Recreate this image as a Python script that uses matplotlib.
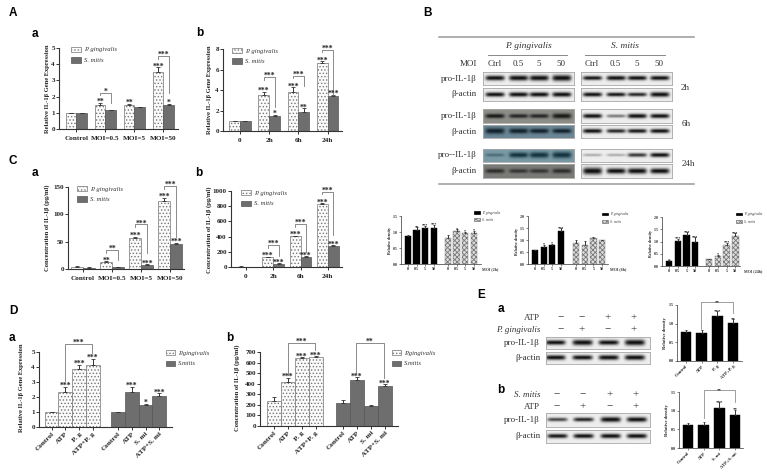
import numpy as np
import matplotlib
matplotlib.use('Agg')
import matplotlib.pyplot as plt
from matplotlib.patches import Patch

W, H = 767, 473
SERIF = 'Liberation Serif'
SANS = 'Liberation Sans'
DARK = '#6e6e6e'

plt.rcParams['font.family'] = SERIF
plt.rcParams['hatch.linewidth'] = 0.6

# panel A
moi_labels = ['Control', 'MOI=0.5', 'MOI=5', 'MOI=50']
time_labels = ['0', '2h', '6h', '24h']
aa_pg = [1, 1.5, 1.48, 3.52]
aa_pg_err = [0, .12, .08, .3]
aa_sm = [1, 1.15, 1.33, 1.5]
aa_sm_err = [0, .05, .05, .05]
ab_pg = [1, 3.55, 3.8, 6.6]
ab_pg_err = [0, .3, .45, .2]
ab_sm = [1, 1.5, 1.9, 3.4]
ab_sm_err = [0, .08, .3, .15]

# panel C
ca_pg = [4, 13, 57, 125]
ca_pg_err = [1, 1, 1.5, 5]
ca_sm = [2.5, 3, 7, 46]
ca_sm_err = [.5, .5, 1.5, 1.5]
cb_pg = [5, 125, 405, 835]
cb_pg_err = [3, 8, 5, 5]
cb_sm = [3, 45, 135, 280]
cb_sm_err = [1, 5, 5, 5]

# panel C density charts
moi_small = ['0', '0.5', '5', '50']
d2_pg = [.87, 1.05, 1.12, 1.12]
d2_pg_err = [.03, .1, .07, .1]
d2_sm = [.81, 1.03, .97, .97]
d2_sm_err = [.1, .05, .04, .06]
d6_pg = [.58, .72, .78, 1.37]
d6_pg_err = [.02, .08, .07, .12]
d6_sm = [.88, .78, 1.08, .98]
d6_sm_err = [.13, .17, .03, .02]
d24_pg = [.2, 1.02, 1.28, .97]
d24_pg_err = [.03, .1, .1, .2]
d24_sm = [.28, .42, .85, 1.22]
d24_sm_err = [.01, .04, .1, .12]

# panel D
da_pg = [1, 2.35, 3.85, 4.15]
da_pg_err = [0, .32, .3, .4]
da_sm = [1, 2.35, 1.5, 2.1]
da_sm_err = [0, .32, .05, .15]
db_pg = [240, 420, 640, 650]
db_pg_err = [35, 35, 8, 10]
db_sm = [220, 435, 190, 375]
db_sm_err = [25, 25, 5, 20]
d_labels = ['Control', 'ATP', 'P. g', 'ATP+P. g', 'Control', 'ATP', 'S. mi', 'ATP+S. mi']

# panel E density charts
ea_vals = [.77, .74, 1.2, 1.02]
ea_err = [.07, .09, .13, .1]
ea_labels = ['Control', 'ATP', 'P. g', 'ATP+P. g']
eb_vals = [.61, .62, 1.08, .89]
eb_err = [.07, .07, .14, .14]
eb_labels = ['Control', 'ATP', 'S. mi', 'ATP+S. mi']

# blot band strengths
b2h_il_l = [.9, 1.05, 1.1, 1.3]
b2h_ac_l = [.8, .85, .85, .9]
b2h_il_r = [.65, .8, .75, .75]
b2h_ac_r = [.75, .65, .6, .95]
b6h_il_l = [.7, .6, .6, .95]
b6h_ac_l = [1.2, 1.0, .85, .8]
b6h_il_r = [.7, .35, .75, .7]
b6h_ac_r = [.75, .6, .65, .7]
b24h_il_l = [.3, 1.0, 1.15, 1.3]
b24h_ac_l = [.7, .6, .6, .75]
b24h_il_r = [.2, .2, .55, .7]
b24h_ac_r = [1.5, 1.05, 1.1, 1.0]
ea_il = [.8, 1.1, .85, 1.2]
ea_ac = [.8, .75, .85, .9]
eb_il = [.5, .6, .95, .85]
eb_ac = [.65, .7, .75, .75]

fig = plt.figure(figsize=(W / 100, H / 100), dpi=100)


def fx(x):
    return x / W


def fy(y):
    return 1 - y / H


def make_axes(left, right, top, bottom, xlim, ylim, yticks, fs=5, lw=.8):
    ax = fig.add_axes([fx(left), fy(bottom), (right - left) / W, (bottom - top) / H])
    ax.set_xlim(*xlim)
    ax.set_ylim(*ylim)
    ax.set_yticks(yticks)
    ax.patch.set_alpha(0)
    for s in ['top', 'right']:
        ax.spines[s].set_visible(False)
    for s in ['left', 'bottom']:
        ax.spines[s].set_linewidth(lw)
        ax.spines[s].set_color('#333333')
    ax.tick_params(labelsize=fs, width=lw * .8, length=2 * lw + .4, pad=1, colors='#222222')
    for t in ax.get_xticklabels() + ax.get_yticklabels():
        t.set_fontweight('bold')
    return ax


def bars(ax, x, vals, errs, style, width, stars=None, fs=5.5, lw=.5, cap=1.2):
    if style == 'dots':
        kw = dict(color='#fbfbfb', edgecolor='#777777', hatch='.....', linewidth=lw)
    elif style == 'dark':
        kw = dict(color=DARK, edgecolor='#555555', linewidth=lw)
    elif style == 'black':
        kw = dict(color='black', edgecolor='black', linewidth=lw)
    else:
        kw = dict(color='#dddddd', edgecolor='#777777', hatch='xxxxxxx', linewidth=lw)
    ax.bar(x, vals, width, **kw)
    ax.errorbar(x, vals, yerr=[np.zeros(len(errs)), errs], fmt='none', ecolor='#333333',
                elinewidth=.7, capsize=cap, capthick=.6)
    if stars:
        for xi, v, e, s in zip(x, vals, errs, stars):
            if s:
                ax.annotate(s, (xi, v + e), xytext=(0, -fs * .42), textcoords='offset points',
                            ha='center', va='bottom', fontsize=fs, fontweight='bold',
                            color='#222222', annotation_clip=False)


def bracket(ax, x1, x2, top, yl, yr, label, fs=5.5, lw=.6, color='#777777'):
    ax.plot([x1, x1, x2, x2], [yl, top, top, yr], color=color, lw=lw, clip_on=False)
    ax.annotate(label, ((x1 + x2) / 2, top), xytext=(0, -fs * .42), textcoords='offset points',
                ha='center', va='bottom', fontsize=fs, fontweight='bold', color='#222222',
                annotation_clip=False)


def legend(ax, x, y, labels, styles, fs=4.8, hl=1.5, hh=.8, spacing=.75, sep=.45):
    handles = []
    for st in styles:
        if st == 'dots':
            handles.append(Patch(facecolor='#fbfbfb', edgecolor='#777777', hatch='.....', lw=.5))
        elif st == 'dark':
            handles.append(Patch(facecolor=DARK, edgecolor='#555555', lw=.5))
        elif st == 'black':
            handles.append(Patch(facecolor='black', edgecolor='black', lw=.5))
        else:
            handles.append(Patch(facecolor='#dddddd', edgecolor='#777777', hatch='xxxxxxx', lw=.5))
    ax.legend(handles, labels, loc='center left', bbox_to_anchor=(fx(x), fy(y)),
              bbox_transform=fig.transFigure, frameon=False, borderpad=0, borderaxespad=0,
              handlelength=hl, handleheight=hh, labelspacing=spacing, handletextpad=sep,
              prop=dict(family=SERIF, style='italic', size=fs), labelcolor='#333333')


def ylabel(x, y, text, fs=4.7):
    fig.text(fx(x), fy(y), text, rotation=90, ha='center', va='center', fontsize=fs,
             fontweight='bold', color='#222222')


def txt(x, y, s, fs=6.5, ha='center', **kw):
    kw.setdefault('color', '#333333')
    fig.text(fx(x), fy(y), s, ha=ha, va='center', fontsize=fs, **kw)


def grouped(rect, xlim, ylim, yticks, labels, width, pg, pg_err, sm, sm_err, st_pg, st_sm):
    ax = make_axes(*rect, xlim, ylim, yticks)
    g = np.arange(len(labels))
    bars(ax, g - width / 2, pg, pg_err, 'dots', width, st_pg)
    bars(ax, g + width / 2, sm, sm_err, 'dark', width, st_sm)
    ax.set_xticks(g)
    ax.set_xticklabels(labels, fontsize=5.2, fontweight='bold')
    ax.tick_params(axis='x', pad=3)
    return ax


names = ['P. gingivalis', 'S. mitis']

# A a
w = .37
ax = grouped((59, 178, 48, 129), (-.6, 3.5), (0, 5), range(6), moi_labels, w,
             aa_pg, aa_pg_err, aa_sm, aa_sm_err, ['', '**', '**', '***'], ['', '', '', '*'])
bracket(ax, 1 - w / 2, 1 + w / 2, 2.24, 2.1, 1.6, '*')
bracket(ax, 3 - w / 2, 3 + w / 2, 4.52, 4.3, 2.2, '***')
legend(ax, 71, 55, names, ['dots', 'dark'])
ylabel(47, 89, 'Relative IL-1β Gene Expression')

# A b
ax = grouped((223, 342, 49, 131), (-.58, 3.49), (0, 8), range(0, 9, 2), time_labels, w,
             ab_pg, ab_pg_err, ab_sm, ab_sm_err, ['', '***', '***', '***'], ['', '*', '**', '***'])
bracket(ax, 1 - w / 2, 1 + w / 2, 5.27, 5.0, 2.35, '***')
bracket(ax, 2 - w / 2, 2 + w / 2, 5.37, 5.15, 4.4, '***')
bracket(ax, 3 - w / 2, 3 + w / 2, 7.9, 7.7, 3.5, '***')
legend(ax, 232, 56, names, ['dots', 'dark'])
ylabel(210, 90, 'Relative IL-1β Gene Expression')

# C a
w = .41
ax = grouped((68, 184, 187, 269), (-.52, 3.48), (0, 150), [0, 50, 100, 150], moi_labels, w,
             ca_pg, ca_pg_err, ca_sm, ca_sm_err, ['', '**', '***', '***'], ['', '', '***', '***'])
bracket(ax, 1 - w / 2, 1 + w / 2, 35, 29, 16, '**')
bracket(ax, 2 - w / 2, 2 + w / 2, 82, 77, 29, '***')
bracket(ax, 3 - w / 2, 3 + w / 2, 152, 146, 59, '***')
legend(ax, 77, 194, names, ['dots', 'dark'])
ylabel(47, 228, 'Concentration of IL-1β (pg/ml)')

# C b
w = .40
ax = grouped((231, 342, 191, 267), (-.55, 3.52), (0, 1000), range(0, 1001, 200), time_labels, w,
             cb_pg, cb_pg_err, cb_sm, cb_sm_err, ['', '***', '***', '***'], ['', '***', '***', '***'])
bracket(ax, 1 - w / 2, 1 + w / 2, 290, 250, 145, '***')
bracket(ax, 2 - w / 2, 2 + w / 2, 565, 525, 197, '***')
bracket(ax, 3 - w / 2, 3 + w / 2, 990, 960, 420, '***')
legend(ax, 241, 198, names, ['dots', 'dark'])
ylabel(209, 230, 'Concentration of IL-1β (pg/ml)')


def density(rect, xlim, ylim, yticks, start, pg, pg_err, sm, sm_err, st_pg, st_sm):
    ax = make_axes(*rect, xlim, ylim, yticks, fs=2.8, lw=.5)
    xa = np.arange(4)
    xb = xa + start
    bars(ax, xa, pg, pg_err, 'black', .72, st_pg, fs=3, lw=.3, cap=.7)
    bars(ax, xb, sm, sm_err, 'hatch', .72, st_sm, fs=3, lw=.3, cap=.7)
    ax.set_xticks(list(xa) + list(xb))
    ax.set_xticklabels(moi_small * 2, fontsize=2.9, fontweight='bold')
    ax.set_yticklabels(['%.1f' % t for t in yticks], fontweight='bold')
    return ax


ax = density((401, 481, 216, 264), (-.81, 8.49), (0, 1.5), [0, .5, 1, 1.5], 4.65,
             d2_pg, d2_pg_err, d2_sm, d2_sm_err, ['', '**', '***', '***'], ['', '*', '*', '*'])
legend(ax, 474, 216.5, names, ['black', 'hatch'], fs=2.7, hl=1.5, spacing=.9, sep=.7)
ylabel(390, 240, 'Relative density', fs=2.9)
txt(482, 269, 'MOI (2h)', fs=2.9, ha='left', fontweight='bold')

ax = density((528, 608, 216, 264), (-.8, 8.4), (0, 2), [0, .5, 1, 1.5, 2], 4.73,
             d6_pg, d6_pg_err, d6_sm, d6_sm_err, ['', '*', '*', '***'], None)
legend(ax, 602, 218, names, ['black', 'hatch'], fs=2.7, hl=1.5, spacing=.9, sep=.7)
ylabel(517, 241, 'Relative density', fs=2.9)
txt(610, 269, 'MOI (6h)', fs=2.9, ha='left', fontweight='bold')

ax = density((662, 740, 217, 266), (-.8, 8.1), (0, 2), [0, .5, 1, 1.5, 2], 4.57,
             d24_pg, d24_pg_err, d24_sm, d24_sm_err, ['*', '***', '***', '***'], ['', '*', '***', '***'])
legend(ax, 736, 218, names, ['black', 'hatch'], fs=2.7, hl=1.5, spacing=.9, sep=.7)
ylabel(651, 243, 'Relative density', fs=2.9)
txt(744, 271, 'MOI (24h)', fs=2.9, ha='left', fontweight='bold')


def treatment(rect, xlim, ylim, yticks, start, pg, pg_err, sm, sm_err, st_pg, st_sm):
    ax = make_axes(*rect, xlim, ylim, yticks)
    xa = np.arange(4)
    xb = xa + start
    bars(ax, xa, pg, pg_err, 'dots', 1, st_pg)
    bars(ax, xb, sm, sm_err, 'dark', 1, st_sm)
    ax.set_xticks(list(xa) + list(xb))
    ax.set_xticklabels(d_labels, fontsize=5.2, fontweight='bold', rotation=45, ha='right',
                       rotation_mode='anchor')
    return ax


names_d = ['P.gingivalis', 'S.mitis']

# D a
ax = treatment((39, 172, 352, 427), (-.91, 8.76), (0, 5), range(6), 4.84, da_pg, da_pg_err, da_sm, da_sm_err,
               ['', '***', '***', '***'], ['', '***', '*', '***'])
bracket(ax, 1, 2.95, 5.55, 3.05, 4.95, '***')
legend(ax, 166, 358, names_d, ['dots', 'dark'], hl=1.35)
ylabel(22, 388, 'Relative IL-1β Gene Expression')

# D b
ax = treatment((260, 398, 352, 426), (-1, 8.92), (0, 700), range(0, 701, 100), 4.96, db_pg, db_pg_err, db_sm, db_sm_err,
               ['', '***', '***', '***'], ['', '***', '', '***'])
bracket(ax, 1, 2.95, 785, 485, 720, '***')
bracket(ax, 5.9, 7.9, 785, 505, 455, '**')
legend(ax, 392, 358, names_d, ['dots', 'dark'], hl=1.35)
ylabel(237, 388, 'Concentration of IL-1β (pg/ml)')


def simple(rect, xlim, vals, errs, labels, stars):
    ax = make_axes(*rect, xlim, (0, 1.5), [0, .5, 1, 1.5], fs=3, lw=.5)
    x = np.arange(4)
    bars(ax, x, vals, errs, 'black', .67, stars, fs=3.5, lw=.3, cap=.9)
    ax.set_yticklabels(['%.1f' % t for t in [0, .5, 1, 1.5]], fontweight='bold')
    ax.set_xticks(x)
    ax.set_xticklabels(labels, fontsize=3.3, fontweight='bold', rotation=45, ha='right',
                       rotation_mode='anchor')
    return ax


# E charts
ax = simple((677, 742, 305, 361), (-.57, 3.57), ea_vals, ea_err, ea_labels, ['', '', '***', '**'])
bracket(ax, .96, 3, 1.58, .87, 1.28, '**', fs=3.5, lw=.5)
ylabel(665, 333, 'Relative density', fs=3.3)
ax = simple((679, 743, 392, 448), (-.57, 3.5), eb_vals, eb_err, eb_labels, ['', '', '***', '**'])
bracket(ax, 1.02, 3, 1.55, .8, 1.23, '**', fs=3.5, lw=.5)
ylabel(667, 420, 'Relative density', fs=3.3)


def blot(left, right, top, bottom, centers, strengths, bg='#eeeeee', band='#0c0c0c', border='#a8a8a8', bw=9.5):
    # soft dark smears on a flat background, band strength sets thickness
    ax = fig.add_axes([fx(left), fy(bottom), (right - left) / W, (bottom - top) / H])
    ny, nx = int((bottom - top) * 5), int((right - left) * 5)
    xs = np.linspace(left, right, nx)
    ys = np.linspace(top, bottom, ny)
    xx, yy = np.meshgrid(xs, ys)
    cy = (top + bottom) / 2
    a = np.zeros_like(xx)
    for c, s in zip(centers, strengths):
        t = 1.0 + 1.5 * s
        a += min(s * 1.5, 1) * np.exp(-((xx - c) / bw) ** 6) * np.exp(-((yy - cy) / t) ** 2)
    a = np.clip(a, 0, 1)[..., None]
    bgc = np.array(matplotlib.colors.to_rgb(bg))
    bc = np.array(matplotlib.colors.to_rgb(band))
    ax.imshow(bgc * (1 - a) + bc * a, aspect='auto', interpolation='bilinear')
    ax.set_xticks([])
    ax.set_yticks([])
    for s in ax.spines.values():
        s.set_color(border)
        s.set_linewidth(.6)


# B blots
fig.add_artist(plt.Line2D([fx(439), fx(694)], [fy(37), fy(37)], color='#999999', lw=1.1))
fig.add_artist(plt.Line2D([fx(439), fx(694)], [fy(184.5), fy(184.5)], color='#999999', lw=1.1))
fig.add_artist(plt.Line2D([fx(487.5), fx(567)], [fy(55), fy(55)], color='#888888', lw=.7))
fig.add_artist(plt.Line2D([fx(585), fx(665)], [fy(55), fy(55)], color='#888888', lw=.7))
txt(528, 46, 'P. gingivalis', style='italic', fs=6.8)
txt(625, 46, 'S. mitis', style='italic', fs=6.8)
txt(477, 64, 'MOI', ha='right')
cl = [494.5, 518, 538.5, 561]
cr = [592, 615.5, 636.5, 659]
for c, s in zip(cl + cr, ['Ctrl', '0.5', '5', '50'] * 2):
    txt(c, 64, s)

rows = [(72, 85.5, 'pro-IL-1β', b2h_il_l, b2h_il_r, '#eeeeee', '#0c0c0c'),
        (88, 101, 'β-actin', b2h_ac_l, b2h_ac_r, '#eeeeee', '#0c0c0c'),
        (109.5, 122.7, 'pro-IL-1β', b6h_il_l, b6h_il_r, '#8d8e88', '#161616'),
        (125, 138.5, 'β-actin', b6h_ac_l, b6h_ac_r, '#6b8796', '#10202a'),
        (148.7, 162, 'pro--IL-1β', b24h_il_l, b24h_il_r, '#7a9aa6', '#12303e'),
        (164.5, 177.6, 'β-actin', b24h_ac_l, b24h_ac_r, '#7b7b78', '#2a2a2a')]
for top, bottom, name, sl, sr, bg, band in rows:
    blot(482.6, 574, top, bottom, cl, sl, bg=bg, band=band)
    blot(580.6, 672, top, bottom, cr, sr)
    txt(477, (top + bottom) / 2, name, ha='right')
txt(685.6, 88, '2h')
txt(686, 124, '6h')
txt(688, 163.5, '24h')

# E blots
signs_a = [['−', '−', '+', '+'], ['−', '+', '−', '+']]
ca = [560.7, 582, 608, 634]
for y, name, row, st in [(318, 'ATP', signs_a[0], 'normal'), (330, 'P. gingivalis', signs_a[1], 'italic')]:
    txt(540, y, name, ha='right', style=st)
    for c, s in zip(ca, row):
        txt(c, y, s, fs=8)
blot(545.7, 650, 336.7, 349, [555, 582, 608, 634], ea_il, bw=10)
blot(545.7, 650, 352, 364, [555, 582, 608, 634], ea_ac, bw=10)
txt(540, 343, 'pro-IL-1β', ha='right')
txt(540, 358, 'β-actin', ha='right')

signs_b = [['−', '−', '+', '+'], ['−', '+', '−', '+']]
cb = [557, 583, 610, 636]
for y, name, row, st in [(395, 'S. mitis', signs_b[0], 'italic'), (407, 'ATP', signs_b[1], 'normal')]:
    txt(540, y, name, ha='right', style=st)
    for c, s in zip(cb, row):
        txt(c, y, s, fs=8)
blot(545.7, 650, 413, 427, [557, 583, 610, 636], eb_il, bw=10)
blot(545.7, 650, 430, 443, [557, 583, 610, 636], eb_ac, bw=10)
txt(540, 420, 'pro-IL-1β', ha='right')
txt(540, 436, 'β-actin', ha='right')

# panel letters
for x, y, s in [(13, 13, 'A'), (428, 13, 'B'), (13, 161, 'C'), (13, 311, 'D'), (481, 295, 'E')]:
    txt(x, y, s, fs=8.5, family=SANS, fontweight='bold', color='black')
for x, y, s in [(35, 34, 'a'), (200, 33, 'b'), (35, 173, 'a'), (199, 173, 'b'), (12, 338, 'a'),
                (230, 338, 'b'), (501, 309, 'a'), (501, 390, 'b')]:
    txt(x, y, s, fs=8.5, family=SANS, fontweight='bold', color='black')

fig.savefig('out.png', dpi=100)
plt.close(fig)
